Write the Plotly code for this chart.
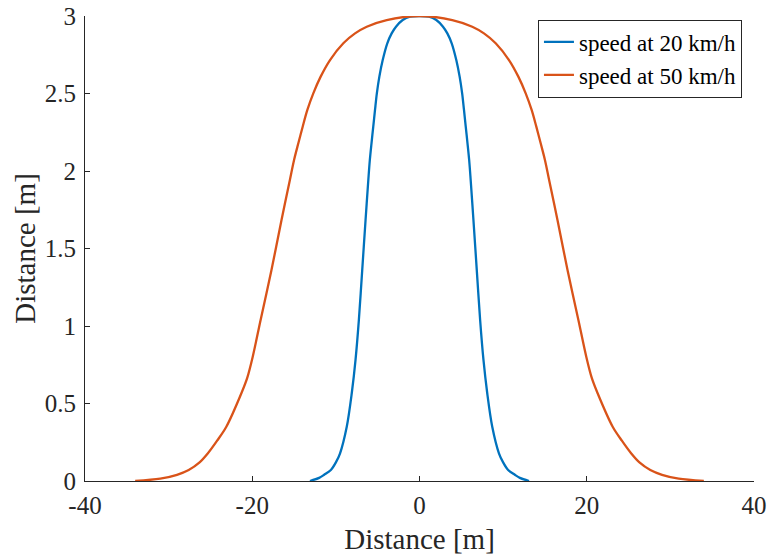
import plotly.graph_objects as go

# speed at 20 km/h
x20 = [-13.1, -12.0, -11.4, -10.6, -10.0, -9.5, -8.7, -8.1, -7.65, -7.25, -6.85, -6.45, -6.12,
       -5.94, -5.74, -5.53, -5.32, -5.10, -4.80, -4.40, -3.85, -3.33, -2.81, -2.01, -1.14, 0.0,
       1.14, 2.01, 2.81, 3.33, 3.85, 4.40, 4.80, 5.10, 5.32, 5.53, 5.74, 5.94, 6.12, 6.45,
       6.85, 7.25, 7.65, 8.1, 8.7, 9.5, 10.0, 10.6, 11.4, 12.0, 13.1]
y20 = [0.0, 0.02, 0.04, 0.071, 0.12, 0.179, 0.35, 0.566, 0.781, 1.039, 1.361, 1.684, 1.942,
       2.071, 2.179, 2.286, 2.394, 2.501, 2.609, 2.716, 2.824, 2.888, 2.931, 2.974, 2.996, 3.0,
       2.996, 2.974, 2.931, 2.888, 2.824, 2.716, 2.609, 2.501, 2.394, 2.286, 2.179, 2.071,
       1.942, 1.684, 1.361, 1.039, 0.781, 0.566, 0.35, 0.179, 0.12, 0.071, 0.04, 0.02, 0.0]

# speed at 50 km/h
x50 = [-34.0, -31.0, -29.0, -27.6, -26.3, -25.3, -24.2, -23.1, -21.3, -20.6, -19.95, -19.0,
       -17.7, -16.5, -15.5, -15.0, -14.49, -13.97, -13.41, -12.70, -11.82, -10.70, -9.11,
       -7.71, -6.31, -3.92, 0.0,
       3.92, 6.31, 7.71, 9.11, 10.70, 11.82, 12.70, 13.41, 13.97, 14.49, 15.0, 15.5, 16.5,
       17.7, 19.0, 19.95, 20.6, 21.3, 23.1, 24.2, 25.3, 26.3, 27.6, 29.0, 31.0, 34.0]
y50 = [0.0, 0.015, 0.04, 0.071, 0.12, 0.179, 0.26, 0.35, 0.566, 0.665, 0.80, 1.039,
       1.361, 1.684, 1.942, 2.071, 2.179, 2.286, 2.394, 2.501, 2.609, 2.716, 2.824,
       2.888, 2.931, 2.974, 3.0,
       2.974, 2.931, 2.888, 2.824, 2.716, 2.609, 2.501, 2.394, 2.286, 2.179, 2.071, 1.942,
       1.684, 1.361, 1.039, 0.80, 0.665, 0.566, 0.35, 0.26, 0.179, 0.12, 0.071, 0.04, 0.015, 0.0]

xticks = [-40, -20, 0, 20, 40]
yticks = [0, 0.5, 1, 1.5, 2, 2.5, 3]
ytick_text = ["0", "0.5", "1", "1.5", "2", "2.5", "3"]

FONT = "Liberation Serif"
AXC = "#262626"

fig = go.Figure()
fig.add_trace(go.Scatter(x=x20, y=y20, mode="lines", name="speed at 20 km/h",
                         line=dict(color="#0072BD", width=2.3, shape="spline", smoothing=0.9)))
fig.add_trace(go.Scatter(x=x50, y=y50, mode="lines", name="speed at 50 km/h",
                         line=dict(color="#D95319", width=2.3, shape="spline", smoothing=0.9)))

fig.update_layout(
    width=769, height=560,
    margin=dict(l=85, r=15, t=16, b=79),
    paper_bgcolor="white", plot_bgcolor="white",
    font=dict(family=FONT, size=25, color=AXC),
    showlegend=True,
    legend=dict(x=0.982, y=0.9086, xanchor="right", yanchor="middle",
                bgcolor="white", bordercolor=AXC, borderwidth=1,
                font=dict(family=FONT, size=23, color="black"),
                tracegroupgap=0, itemwidth=30),
    xaxis=dict(range=[-40, 40], tickvals=xticks, ticktext=[str(v) for v in xticks],
               automargin=False,
               showgrid=False, zeroline=False, showline=True, linecolor=AXC, linewidth=1,
               ticks="inside", ticklen=5, tickcolor=AXC, mirror=False,
               title=dict(text="Distance [m]", font=dict(size=29, family=FONT), standoff=10),
               tickfont=dict(size=25, family=FONT, color=AXC), ticklabelstandoff=2),
    yaxis=dict(range=[0, 3], tickvals=yticks, ticktext=ytick_text,
               automargin=False,
               showgrid=False, zeroline=False, showline=True, linecolor=AXC, linewidth=1,
               ticks="inside", ticklen=5, tickcolor=AXC, mirror=False,
               title=dict(text="Distance [m]", font=dict(size=29, family=FONT), standoff=0),
               tickfont=dict(size=25, family=FONT, color=AXC), ticklabelstandoff=3),
)

fig.write_html("out.html", config={"displayModeBar": False},
               post_script="document.body.style.margin='0';document.body.style.overflow='hidden';")
